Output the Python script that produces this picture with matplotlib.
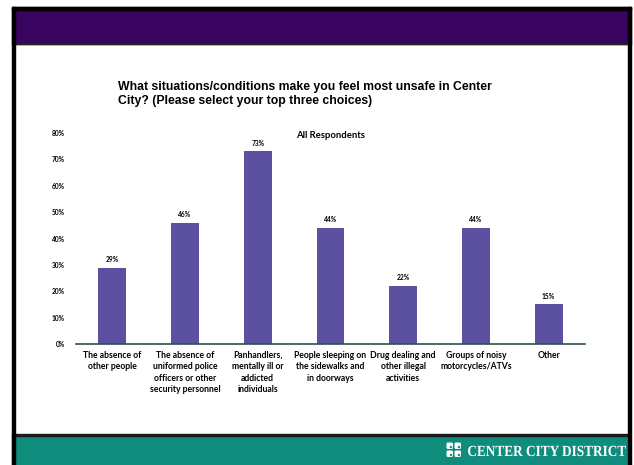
import matplotlib
matplotlib.use("Agg")
import matplotlib.pyplot as plt
from matplotlib.patches import Rectangle, FancyBboxPatch, PathPatch
from matplotlib.textpath import TextPath
from matplotlib.font_manager import FontProperties
from matplotlib.transforms import Affine2D
import numpy as np

# Survey results
categories = [
    "The absence of\nother people",
    "The absence of\nuniformed police\nofficers or other\nsecurity personnel",
    "Panhandlers,\nmentally ill or\naddicted\nindividuals",
    "People sleeping on\nthe sidewalks and\nin doorways",
    "Drug dealing and\nother illegal\nactivities",
    "Groups of noisy\nmotorcycles/ATVs",
    "Other",
]
values = [0.29, 0.46, 0.73, 0.44, 0.22, 0.44, 0.15]
y_ticks = [0.0, 0.1, 0.2, 0.3, 0.4, 0.5, 0.6, 0.7, 0.8]
y_tick_labels = ["0%", "10%", "20%", "30%", "40%", "50%", "60%", "70%", "80%"]

title = ("What situations/conditions make you feel most unsafe in Center\n"
         "City? (Please select your top three choices)")
subtitle = "All Respondents"
footer = "CENTER CITY DISTRICT"

W, H = 634, 465
fig = plt.figure(figsize=(W / 100, H / 100), dpi=100)

# slide frame, header and footer bands (pixel coords)
bg = fig.add_axes([0, 0, 1, 1])
bg.set_xlim(0, W)
bg.set_ylim(H, 0)
bg.axis("off")
bg.add_patch(Rectangle((12, 7), 619, 37, color="#390360", zorder=1))
bg.add_patch(Rectangle((12, 7), 619, 3, color="black", zorder=3))
bg.add_patch(Rectangle((12, 43), 619, 1, color="#222222", zorder=3))
bg.add_patch(Rectangle((12, 435), 617, 30, color="#0F8C7C", zorder=1))
bg.add_patch(Rectangle((12, 434), 617, 1.5, color="#1b1b1b", zorder=3))
bg.add_patch(Rectangle((12, 7), 3, H - 7, color="black", zorder=3))
bg.add_patch(Rectangle((628, 7), 3, H - 7, color="black", zorder=3))

# logo mark: four small tiles with notches
for dx, dy in [(0, 0), (8, 0), (0, 8), (8, 8)]:
    bg.add_patch(FancyBboxPatch((447 + dx, 443 + dy), 5.5, 5.5,
                                boxstyle="round,pad=0.5,rounding_size=1.5",
                                fc="white", ec="none", zorder=4))
    bg.add_patch(Rectangle((449.5 + dx, 445.5 + dy), 1.6, 1.6,
                           color="#0F8C7C", zorder=5))

# footer wordmark: bold serif squeezed horizontally
fp = FontProperties(family="Liberation Serif", weight="bold", size=15.5)
tp = TextPath((0, 0), footer, prop=fp)
ext = tp.get_extents()
sx = (626 - 468) / ext.width
tr = Affine2D().scale(sx, -1.0).translate(468 - ext.x0 * sx, 456)
bg.add_patch(PathPatch(tr.transform_path(tp), fc="white", ec="none", zorder=5))

fig.text(118 / W, 1 - 81 / H, title, fontsize=8.8, fontweight="bold",
         family="Liberation Sans", ha="left", va="top", linespacing=1.2)

ax = fig.add_axes([76 / W, 1 - 344 / H, (585 - 76) / W, (344 - 133) / H])
x = np.arange(len(categories))
ax.bar(x, values, width=0.385, color="#5B51A0", zorder=2)
ax.set_xlim(-0.5, len(categories) - 0.5)
ax.set_ylim(0, 0.8)
ax.set_yticks(y_ticks)
ax.set_yticklabels(y_tick_labels, fontsize=4.8, fontweight="bold", family="Lato")
ax.set_xticks(x)
ax.set_xticklabels(categories, fontsize=6.2, fontweight="bold", family="Lato",
                   linespacing=1.33, va="top")
ax.tick_params(axis="both", length=0)
ax.tick_params(axis="y", pad=8)
ax.tick_params(axis="x", pad=5)
for s in ["top", "right", "left"]:
    ax.spines[s].set_visible(False)
ax.spines["bottom"].set_color("#2E4F4F")
ax.spines["bottom"].set_linewidth(1.2)

for xi, v in zip(x, values):
    ax.text(xi, v + 0.018, f"{round(v * 100)}%", ha="center", va="bottom",
            fontsize=4.8, fontweight="bold", family="Lato")

ax.text(0.5, 0.99, subtitle, transform=ax.transAxes, ha="center", va="center",
        fontsize=6.8, fontweight="bold", family="Lato")

fig.savefig("out.png", dpi=100)
